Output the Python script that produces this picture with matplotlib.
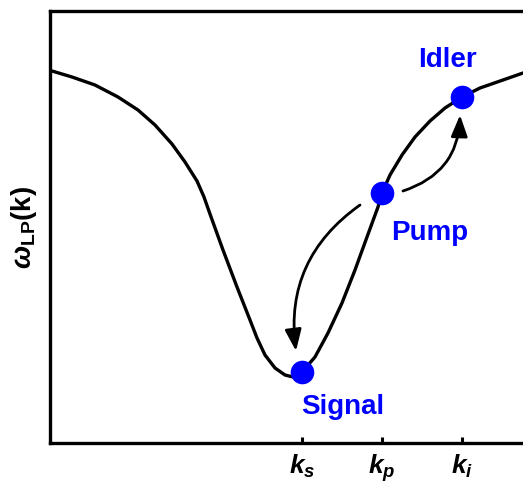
import matplotlib
matplotlib.use("Agg")
import matplotlib.pyplot as plt
from matplotlib.patches import FancyArrowPatch

plt.rcParams["mathtext.fontset"] = "custom"
plt.rcParams["mathtext.it"] = "Liberation Sans:bold:italic"
plt.rcParams["mathtext.bf"] = "Liberation Sans:bold"
plt.rcParams["mathtext.rm"] = "Liberation Sans:bold"

# lower-polariton branch (arbitrary units)
k_curve = [0.02, 0.22, 0.45, 0.68, 0.88, 1.05, 1.22, 1.35, 1.47, 1.54, 1.60, 1.73,
           1.87, 2.00, 2.07, 2.15, 2.25, 2.35, 2.43, 2.52, 2.65, 2.78, 2.92, 3.05,
           3.17, 3.28, 3.32, 3.40, 3.52, 3.65, 3.80, 3.95, 4.12, 4.30, 4.53, 4.73]
w_curve = [3.72, 3.66, 3.58, 3.46, 3.33, 3.18, 2.99, 2.81, 2.62, 2.46, 2.29, 1.93,
           1.56, 1.23, 1.05, 0.88, 0.75, 0.68, 0.66, 0.71, 0.86, 1.10, 1.40, 1.73,
           2.06, 2.36, 2.50, 2.68, 2.88, 3.06, 3.22, 3.35, 3.46, 3.55, 3.63, 3.70]

# signal / pump / idler states
names = ["Signal", "Pump", "Idler"]
k_pts = [2.52, 3.32, 4.12]
w_pts = [0.71, 2.50, 3.46]
tick_labels = [r"$k_s$", r"$k_p$", r"$k_i$"]

fig = plt.figure(figsize=(5.23, 4.86), dpi=100)
ax = fig.add_axes([50 / 523, 43 / 486, 1 - 50 / 523, 432 / 486])
ax.set_xlim(0, 4.73)
ax.set_ylim(0, 4.32)

ax.plot(k_curve, w_curve, color="black", lw=2.4, solid_joinstyle="round",
        solid_capstyle="round", zorder=2)
ax.plot(k_pts, w_pts, "o", color="#0000ff", ms=17, mec="none", zorder=4)

# scattering arrows: pump -> signal and pump -> idler
arr_kw = dict(arrowstyle="-|>,head_length=0.65,head_width=0.25", color="black",
              lw=2.0, shrinkA=0, shrinkB=0, mutation_scale=20, zorder=3)
ax.add_patch(FancyArrowPatch((3.10, 2.38), (2.46, 0.92),
                             connectionstyle="arc3,rad=0.3", **arr_kw))
ax.add_patch(FancyArrowPatch((3.53, 2.52), (4.10, 3.28),
                             connectionstyle="arc3,rad=0.35", **arr_kw))

txt_kw = dict(color="#0000ff", fontsize=20, fontweight="bold",
              family="Liberation Sans", ha="center", va="center")
ax.text(2.93, 0.36, names[0], **txt_kw)
ax.text(3.80, 2.10, names[1], **txt_kw)
ax.text(3.97, 3.83, names[2], **txt_kw)

ax.set_xticks(k_pts)
ax.set_xticklabels(tick_labels, fontsize=19)
ax.set_yticks([])
ax.tick_params(axis="x", direction="in", length=4, width=2.2, pad=7)
for s in ["left", "bottom", "top"]:
    ax.spines[s].set_linewidth(2.4)
ax.spines["right"].set_visible(False)

ax.set_ylabel(r"$\omega_{\mathbf{LP}}\mathbf{(k)}$", fontsize=20, labelpad=8)

fig.savefig("out.png", dpi=100)
